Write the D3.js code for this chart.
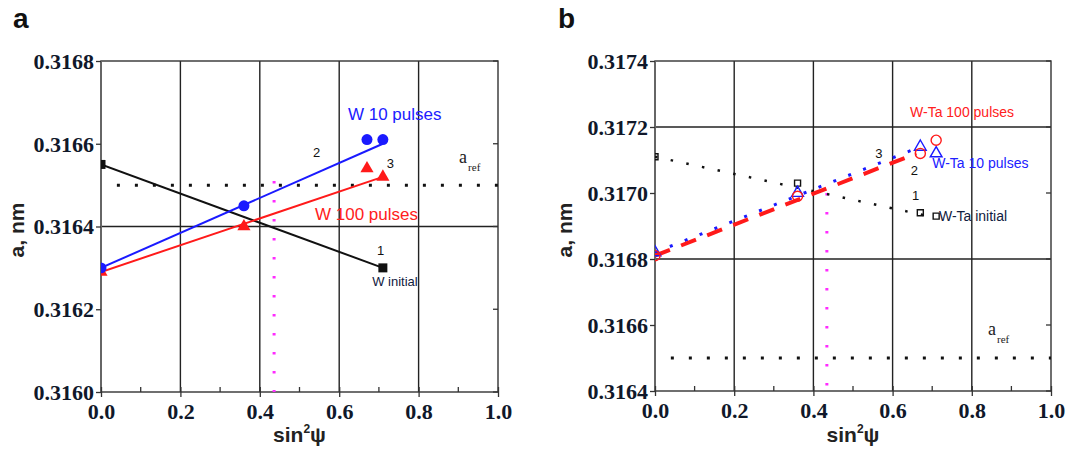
<!DOCTYPE html>
<html>
<head>
<meta charset="utf-8">
<script src="https://cdn.jsdelivr.net/npm/d3@7"></script>
<style>
  body { margin: 0; background: #fff; }
  svg { display: block; }
</style>
</head>
<body>
<div class="chart"></div>
<script>
// x = sin^2(psi), y = lattice parameter a, nm
var xTicks = [0, 0.2, 0.4, 0.6, 0.8, 1.0];
var xMinor = [0.1, 0.3, 0.5, 0.7, 0.9];
var yTicksA = [0.3160, 0.3162, 0.3164, 0.3166, 0.3168];
var yTicksB = [0.3164, 0.3166, 0.3168, 0.3170, 0.3172, 0.3174];
var aRef = 0.3165;

// panel a
var wInitX = [0, 0.71];
var wInitY = [0.31655, 0.3163];
var wInitFit = [[0, 0.31655], [0.71, 0.3163]];

var w10X = [0, 0.36, 0.67, 0.71];
var w10Y = [0.3163, 0.31645, 0.31661, 0.31661];
var w10Fit = [[0, 0.3163], [0.71, 0.3166]];

var w100X = [0, 0.36, 0.67, 0.71];
var w100Y = [0.31629, 0.3164, 0.31654, 0.31652];
var w100Fit = [[0, 0.31629], [0.71, 0.31652]];

var magentaA = [[0.436, 0.31651], [0.436, 0.3160]];

// panel b
var wtaInitX = [0, 0.36, 0.67, 0.71];
var wtaInitY = [0.31711, 0.31703, 0.31694, 0.31693];
var wtaInitFit = [[0, 0.31711], [0.69, 0.31693]];

var wta10X = [0, 0.36, 0.67, 0.71];
var wta10Y = [0.31682, 0.317, 0.31714, 0.31712];
var wta10Fit = [[0, 0.31682], [0.67, 0.31714]];

var wta100X = [0, 0.36, 0.67, 0.71];
var wta100Y = [0.31681, 0.31699, 0.31712, 0.31716];
var wta100Fit = [[0, 0.31681], [0.66, 0.31712]];

var magentaB = [[0.434, 0.3170], [0.434, 0.3164]];

var width = 1091;
var height = 450;

var svg = d3.select(".chart")
    .append("svg")
    .attr("width", width)
    .attr("height", height);

function zip(xs, ys) {
    return xs.map(function (x, i) { return [x, ys[i]]; });
}

function styleTicks(sel) {
    sel.attr("font-family", "Liberation Serif")
        .attr("font-weight", "bold")
        .attr("font-size", 22)
        .attr("fill", "#10182a");
}

function drawPanel(p) {
    var x = d3.scaleLinear().domain([0, 1]).range([p.left, p.right]);
    var y = d3.scaleLinear().domain(p.yDomain).range([p.bottom, p.top]);
    var g = svg.append("g");

    // grid lines
    g.selectAll(".vgrid")
        .data([0.2, 0.4, 0.6, 0.8])
        .enter()
        .append("line")
        .attr("x1", d => x(d)).attr("x2", d => x(d))
        .attr("y1", p.top).attr("y2", p.bottom)
        .attr("stroke", "#222").attr("stroke-width", 1.4);
    g.selectAll(".hgrid")
        .data(p.hGrid)
        .enter()
        .append("line")
        .attr("x1", p.left).attr("x2", p.right)
        .attr("y1", d => y(d)).attr("y2", d => y(d))
        .attr("stroke", "#222").attr("stroke-width", 1.4);

    // frame
    g.append("rect")
        .attr("x", p.left).attr("y", p.top)
        .attr("width", p.right - p.left).attr("height", p.bottom - p.top)
        .attr("fill", "none").attr("stroke", "#333").attr("stroke-width", 1.4);
    g.append("line")
        .attr("x1", p.left).attr("x2", p.left)
        .attr("y1", p.top).attr("y2", p.bottom)
        .attr("stroke", "#666").attr("stroke-width", 2);

    // axes
    var xAxis = d3.axisBottom(x).tickValues(xTicks).tickFormat(d3.format(".1f")).tickSize(5).tickPadding(6);
    var gx = g.append("g").attr("transform", "translate(0," + p.bottom + ")").call(xAxis);
    gx.select(".domain").remove();
    styleTicks(gx.selectAll("text"));
    gx.selectAll("line").attr("y1", -5).attr("stroke", "#333").attr("stroke-width", 1.3);

    g.selectAll(".xminor")
        .data(xMinor)
        .enter()
        .append("line")
        .attr("x1", d => x(d)).attr("x2", d => x(d))
        .attr("y1", p.bottom).attr("y2", p.bottom - 5)
        .attr("stroke", "#333").attr("stroke-width", 1.3);

    var yAxis = d3.axisLeft(y).tickValues(p.yTicks).tickFormat(d3.format(".4f")).tickSize(5).tickPadding(2);
    var gy = g.append("g").attr("transform", "translate(" + p.left + ",0)").call(yAxis);
    gy.select(".domain").remove();
    styleTicks(gy.selectAll("text"));
    gy.selectAll("text").attr("dy", "0.34em");
    gy.selectAll("line").attr("stroke", "#333").attr("stroke-width", 1.3);

    g.selectAll(".yright")
        .data(p.yTicks)
        .enter()
        .append("line")
        .attr("x1", p.right).attr("x2", p.right - 5)
        .attr("y1", d => y(d)).attr("y2", d => y(d))
        .attr("stroke", "#333").attr("stroke-width", 1.3);

    // axis titles
    var xt = g.append("text")
        .attr("x", (p.left + p.right) / 2).attr("y", 442)
        .attr("text-anchor", "middle")
        .attr("font-family", "Liberation Sans").attr("font-weight", "bold")
        .attr("font-size", 21).attr("fill", "#222");
    xt.append("tspan").text("sin");
    xt.append("tspan").text("2").attr("font-size", 12).attr("dy", -9);
    xt.append("tspan").text("\u03c8").attr("dy", 9);

    g.append("text")
        .attr("transform", "translate(" + p.titleX + "," + 230 + ") rotate(-90)")
        .attr("text-anchor", "middle")
        .attr("font-family", "Liberation Sans").attr("font-weight", "bold")
        .attr("font-size", 21).attr("fill", "#222")
        .text("a, nm");

    g.append("text")
        .attr("x", p.letterX).attr("y", 28)
        .attr("font-family", "Liberation Sans").attr("font-weight", "bold")
        .attr("font-size", 28).attr("fill", "#111")
        .text(p.letter);

    // clipped plot content
    var clipId = "clip" + p.letter;
    svg.append("clipPath").attr("id", clipId)
        .append("rect")
        .attr("x", p.left).attr("y", p.top)
        .attr("width", p.right - p.left).attr("height", p.bottom - p.top);
    var plot = g.append("g").attr("clip-path", "url(#" + clipId + ")");

    var line = d3.line().x(d => x(d[0])).y(d => y(d[1]));

    // reference lines
    plot.append("path")
        .attr("d", line([[p.refStart, aRef], [1, aRef]]))
        .attr("stroke", "#111").attr("stroke-width", 3)
        .attr("stroke-dasharray", "3,15").attr("fill", "none");
    plot.append("path")
        .attr("d", line(p.magenta))
        .attr("stroke", "#ff2bff").attr("stroke-width", 3)
        .attr("stroke-dasharray", "2.5,16.5").attr("fill", "none");

    p.series.forEach(function (s) {
        plot.append("path")
            .attr("d", line(s.fit))
            .attr("fill", "none")
            .attr("stroke", s.color)
            .attr("stroke-width", s.lineWidth)
            .attr("stroke-dasharray", s.dash || null);
    });

    p.series.forEach(function (s) {
        plot.selectAll(null)
            .data(zip(s.xs, s.ys))
            .enter()
            .append("path")
            .attr("transform", d => "translate(" + x(d[0]) + "," + y(d[1]) + ")")
            .attr("d", d3.symbol().type(s.symbol).size(s.size))
            .attr("fill", s.filled ? s.color : "none")
            .attr("stroke", s.color)
            .attr("stroke-width", s.filled ? 0 : 1.4);
    });

    // annotations
    p.labels.forEach(function (l) {
        var t = g.append("text")
            .attr("x", x(l.x)).attr("y", y(l.y))
            .attr("font-family", l.serif ? "Liberation Serif" : "Liberation Sans")
            .attr("font-size", l.size)
            .attr("fill", l.color)
            .text(l.text);
        if (l.sub) {
            t.append("tspan").text(l.sub).attr("font-size", 11).attr("dy", 8).attr("dx", 1);
        }
    });
}

drawPanel({
    letter: "a", letterX: 13,
    left: 101, right: 498, top: 61, bottom: 392,
    titleX: 24,
    yDomain: [0.3160, 0.3168], yTicks: yTicksA, hGrid: [0.3164],
    refStart: 0.04, magenta: magentaA,
    series: [
        { xs: wInitX, ys: wInitY, fit: wInitFit, color: "#111", lineWidth: 2, symbol: d3.symbolSquare, size: 81, filled: true },
        { xs: w100X, ys: w100Y, fit: w100Fit, color: "#ff1a1a", lineWidth: 2, symbol: d3.symbolTriangle, size: 75, filled: true },
        { xs: w10X, ys: w10Y, fit: w10Fit, color: "#1a1aff", lineWidth: 2, symbol: d3.symbolCircle, size: 95, filled: true }
    ],
    labels: [
        { text: "W 10 pulses", x: 0.622, y: 0.316657, size: 17, color: "#2020ff" },
        { text: "W 100 pulses", x: 0.539, y: 0.316416, size: 17, color: "#ff2020" },
        { text: "2", x: 0.534, y: 0.316568, size: 13, color: "#111" },
        { text: "3", x: 0.720, y: 0.316541, size: 13, color: "#111" },
        { text: "1", x: 0.695, y: 0.316331, size: 13, color: "#111" },
        { text: "W initial", x: 0.683, y: 0.316256, size: 13, color: "#102040" },
        { text: "a", sub: "ref", x: 0.902, y: 0.316553, size: 18, color: "#222", serif: true }
    ]
});

drawPanel({
    letter: "b", letterX: 558,
    left: 655, right: 1051, top: 61, bottom: 391,
    titleX: 572,
    yDomain: [0.3164, 0.3174], yTicks: yTicksB, hGrid: [0.3168, 0.3172],
    refStart: 0.04, magenta: magentaB,
    series: [
        { xs: wtaInitX, ys: wtaInitY, fit: wtaInitFit, color: "#111", lineWidth: 2.5, dash: "2.5,13.5", symbol: d3.symbolSquare, size: 36, filled: false },
        { xs: wta10X, ys: wta10Y, fit: wta10Fit, color: "#1a1aff", lineWidth: 3, dash: "3,13", symbol: d3.symbolTriangle, size: 60, filled: false },
        { xs: wta100X, ys: wta100Y, fit: wta100Fit, color: "#ff1a1a", lineWidth: 4, dash: "16,12", symbol: d3.symbolCircle, size: 80, filled: false }
    ],
    labels: [
        { text: "W-Ta 100 pulses", x: 0.644, y: 0.31723, size: 14, color: "#ff2020" },
        { text: "W-Ta 10 pulses", x: 0.700, y: 0.317076, size: 14, color: "#2020ff" },
        { text: "W-Ta initial", x: 0.717, y: 0.316915, size: 14, color: "#102040" },
        { text: "3", x: 0.556, y: 0.317106, size: 13, color: "#111" },
        { text: "2", x: 0.646, y: 0.317055, size: 13, color: "#111" },
        { text: "1", x: 0.649, y: 0.316979, size: 13, color: "#111" },
        { text: "a", sub: "ref", x: 0.841, y: 0.31657, size: 18, color: "#222", serif: true }
    ]
});
</script>
</body>
</html>
